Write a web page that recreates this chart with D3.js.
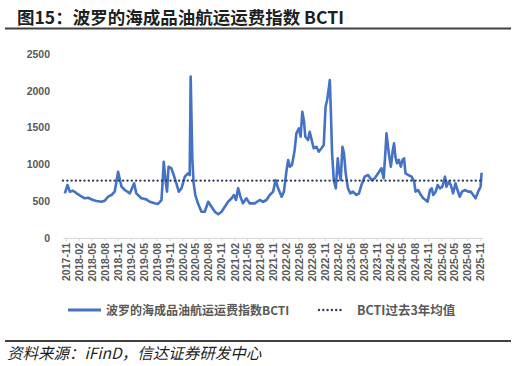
<!DOCTYPE html>
<html><head><meta charset="utf-8">
<script src="https://cdn.jsdelivr.net/npm/d3@7"></script>
<style>
body{margin:0;background:#fff;}
svg{display:block;}
</style></head>
<body>
<svg id="c" width="516" height="366"></svg>
<script>
const title = "图15：波罗的海成品油航运运费指数 BCTI";
const source = "资料来源：iFinD，信达证券研发中心";
const seriesName = "波罗的海成品油航运运费指数BCTI";
const avgName = "BCTI过去3年均值";
const dates = ["2017-10-24","2017-11-12","2017-11-28","2017-12-21","2018-01-15","2018-02-20","2018-03-13","2018-04-06","2018-05-11","2018-06-04","2018-07-09","2018-08-02","2018-08-25","2018-09-18","2018-10-11","2018-11-04","2018-11-28","2018-12-21","2019-01-26","2019-02-25","2019-03-12","2019-04-17","2019-05-22","2019-06-15","2019-07-20","2019-08-12","2019-09-06","2019-09-12","2019-09-22","2019-10-04","2019-10-15","2019-10-26","2019-11-15","2019-12-01","2019-12-20","2020-01-06","2020-01-25","2020-02-18","2020-03-11","2020-03-23","2020-03-30","2020-04-11","2020-04-20","2020-05-02","2020-05-20","2020-06-14","2020-07-07","2020-08-01","2020-08-24","2020-09-17","2020-10-10","2020-11-03","2020-11-26","2020-12-19","2021-01-13","2021-01-29","2021-02-13","2021-02-28","2021-03-16","2021-04-03","2021-04-27","2021-05-20","2021-06-25","2021-07-30","2021-08-23","2021-09-16","2021-10-09","2021-11-02","2021-11-19","2021-12-07","2022-01-01","2022-01-17","2022-02-05","2022-02-16","2022-02-28","2022-03-15","2022-04-03","2022-04-15","2022-05-03","2022-05-15","2022-05-27","2022-06-08","2022-06-17","2022-07-06","2022-07-18","2022-07-29","2022-08-15","2022-09-04","2022-09-20","2022-10-09","2022-10-25","2022-11-07","2022-11-18","2022-11-30","2022-12-07","2022-12-14","2022-12-23","2023-01-04","2023-01-18","2023-02-01","2023-02-12","2023-02-22","2023-03-06","2023-03-17","2023-03-29","2023-04-14","2023-05-01","2023-05-19","2023-06-13","2023-07-01","2023-07-18","2023-08-10","2023-09-03","2023-09-27","2023-10-20","2023-11-13","2023-12-06","2023-12-22","2024-01-04","2024-01-11","2024-01-27","2024-02-11","2024-02-23","2024-03-04","2024-03-14","2024-03-25","2024-04-07","2024-04-21","2024-05-03","2024-05-14","2024-05-24","2024-06-12","2024-07-06","2024-07-24","2024-08-03","2024-08-21","2024-09-10","2024-09-26","2024-10-13","2024-10-27","2024-11-13","2024-11-25","2024-12-06","2024-12-23","2025-01-06","2025-01-22","2025-02-08","2025-02-27","2025-03-09","2025-03-25","2025-04-09","2025-04-25","2025-05-12","2025-05-26","2025-06-11","2025-06-27","2025-07-16","2025-08-09","2025-08-28","2025-09-14","2025-10-01","2025-10-19","2025-11-05","2025-11-12"];
const values = [607,720,630,643,607,562,540,547,516,503,493,507,561,584,630,900,697,652,607,743,607,540,525,493,471,462,516,697,1037,788,630,969,947,856,743,630,675,833,879,856,2192,1060,743,584,471,357,357,493,425,357,322,357,425,493,540,584,516,675,561,471,540,471,471,516,493,516,584,630,788,675,561,630,924,1060,969,992,1196,1422,1490,1376,1716,1580,1376,1331,1444,1354,1219,1240,1172,1219,1264,1784,1875,2034,2147,1739,1151,788,675,1083,879,788,1240,1151,879,675,607,630,584,607,720,833,856,788,811,879,947,811,1196,1422,1151,969,1172,1286,1105,1015,1060,969,1060,1083,879,856,833,765,630,652,584,540,516,493,652,675,584,630,720,675,697,833,697,765,720,607,743,652,561,630,652,630,630,584,540,630,697,887];
const avg3y = 780;
const yTicks = [0,500,1000,1500,2000,2500];
const xTickLabels = ["2017-11","2018-02","2018-05","2018-08","2018-11","2019-02","2019-05","2019-08","2019-11","2020-02","2020-05","2020-08","2020-11","2021-02","2021-05","2021-08","2021-11","2022-02","2022-05","2022-08","2022-11","2023-02","2023-05","2023-08","2023-11","2024-02","2024-05","2024-08","2024-11","2025-02","2025-05","2025-08","2025-11"];

const svg = d3.select("#c");
const parse = d3.timeParse("%Y-%m-%d");
const parseM = d3.timeParse("%Y-%m");
const data = dates.map((d,i)=>({d:parse(d), v:values[i]}));

const x = d3.scaleTime().domain([parse("2017-10-11"), parse("2025-11-22")]).range([63,483]);
const y = d3.scaleLinear().domain([0,2500]).range([238,54]);

// title
svg.append("text").attr("x",17).attr("y",23.5)
  .attr("font-family","'Noto Sans CJK SC', sans-serif").attr("font-weight","bold")
  .attr("font-size",17.5).attr("fill","#1f1f1f").text(title);
svg.append("line").attr("x1",5).attr("x2",511).attr("y1",28.5).attr("y2",28.5)
  .attr("stroke","#404040").attr("stroke-width",2);

// y axis labels
const yAxis = d3.axisLeft(y).tickValues(yTicks).tickFormat(d3.format("d")).tickSize(0).tickPadding(0);
const gy = svg.append("g").attr("transform","translate(50,0)").call(yAxis);
gy.select(".domain").remove();
gy.selectAll("text").attr("font-family","'Liberation Sans', Arial, sans-serif")
  .attr("font-weight","bold").attr("font-size",10.5).attr("fill","#595959");

// x axis
const xAxis = d3.axisBottom(x).tickValues(xTickLabels.map(parseM))
  .tickFormat(d3.timeFormat("%Y-%m")).tickSize(3).tickSizeOuter(0);
const gx = svg.append("g").attr("transform","translate(0,238)").call(xAxis);
gx.select(".domain").attr("stroke","#d9d9d9");
gx.selectAll(".tick line").attr("stroke","#d9d9d9");
gx.selectAll("text").attr("font-family","'Liberation Sans', Arial, sans-serif")
  .attr("font-weight","bold").attr("font-size",10.5).attr("fill","#595959")
  .attr("transform","rotate(-90)").attr("text-anchor","end")
  .attr("x",-5).attr("y",0).attr("dy","0.35em");

// series line
const line = d3.line().x(d=>x(d.d)).y(d=>y(d.v)).curve(d3.curveLinear);
svg.append("path").datum(data).attr("d",line).attr("fill","none")
  .attr("stroke","#4472C4").attr("stroke-width",2.6).attr("stroke-linejoin","round");

// average
svg.append("line").attr("x1",x.range()[0]).attr("x2",x.range()[1])
  .attr("y1",y(avg3y)).attr("y2",y(avg3y))
  .attr("stroke","#2E3B5B").attr("stroke-width",2.4)
  .attr("stroke-dasharray","0,4.3").attr("stroke-linecap","round");

// legend
const lg = svg.append("g");
lg.append("line").attr("x1",68).attr("x2",101).attr("y1",310).attr("y2",310)
  .attr("stroke","#4472C4").attr("stroke-width",3);
lg.append("text").attr("x",106).attr("y",314.5).text(seriesName)
  .attr("font-family","'Noto Sans CJK SC', sans-serif").attr("font-size",12)
  .attr("font-weight","bold").attr("fill","#595959");
lg.append("line").attr("x1",319).attr("x2",344).attr("y1",310).attr("y2",310)
  .attr("stroke","#2E3B5B").attr("stroke-width",2.4)
  .attr("stroke-dasharray","0,4.3").attr("stroke-linecap","round");
lg.append("text").attr("x",357).attr("y",314.5).text(avgName)
  .attr("font-family","'Noto Sans CJK SC', sans-serif").attr("font-size",12.5)
  .attr("font-weight","bold").attr("fill","#595959");

// source
svg.append("line").attr("x1",5).attr("x2",511).attr("y1",341).attr("y2",341)
  .attr("stroke","#404040").attr("stroke-width",2);
svg.append("text").attr("x",7).attr("y",359).text(source)
  .attr("font-family","'Noto Sans CJK SC', serif").attr("font-style","italic")
  .attr("font-size",15.5).attr("fill","#1f1f1f");
</script>
</body></html>
